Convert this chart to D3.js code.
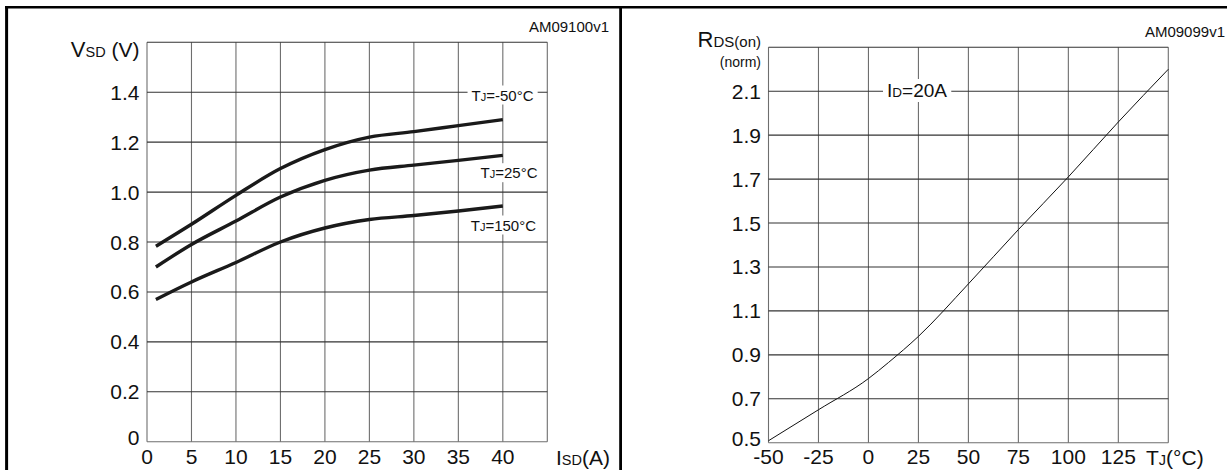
<!DOCTYPE html>
<html>
<head>
<meta charset="utf-8">
<script src="https://cdn.jsdelivr.net/npm/d3@7"></script>
<style>
  body { margin: 0; background: #fff; }
  text { font-family: "Liberation Sans", Arial, sans-serif; fill: #111; }
</style>
</head>
<body>
<div id="chart"></div>
<script>
const WIDTH = 1227;
const HEIGHT = 470;

// left panel: source-drain diode forward voltage
const isdAmps = [1, 5, 10, 15, 20, 25, 30, 35, 40];
const vsdMinus50 = [0.783, 0.871, 0.987, 1.094, 1.17, 1.22, 1.242, 1.266, 1.29];
const vsd25 = [0.70, 0.79, 0.884, 0.98, 1.047, 1.088, 1.108, 1.127, 1.147];
const vsd150 = [0.57, 0.64, 0.718, 0.80, 0.856, 0.89, 0.906, 0.924, 0.944];
const isdTicks = [0, 5, 10, 15, 20, 25, 30, 35, 40];
const vsdTicks = [0, 0.2, 0.4, 0.6, 0.8, 1.0, 1.2, 1.4];

// right panel: normalized on-resistance vs temperature
const tempC = [-50, -25, 0, 10, 25, 50, 75, 100, 125, 150];
const rdsNorm = [0.509, 0.65, 0.792, 0.865, 0.984, 1.223, 1.47, 1.71, 1.96, 2.2];
const tempTicks = [-50, -25, 0, 25, 50, 75, 100, 125];
const rdsTicks = [0.5, 0.7, 0.9, 1.1, 1.3, 1.5, 1.7, 1.9, 2.1];

const svg = d3.select("#chart").append("svg")
    .attr("width", WIDTH)
    .attr("height", HEIGHT);

// outer frame
svg.append("line").attr("x1", 5).attr("x2", WIDTH).attr("y1", 7.3).attr("y2", 7.3)
    .attr("stroke", "#000").attr("stroke-width", 2.6);
svg.append("line").attr("x1", 6.6).attr("x2", 6.6).attr("y1", 6).attr("y2", HEIGHT)
    .attr("stroke", "#000").attr("stroke-width", 3);
svg.append("line").attr("x1", 620.6).attr("x2", 620.6).attr("y1", 6).attr("y2", HEIGHT)
    .attr("stroke", "#000").attr("stroke-width", 2.8);

function grid(g, x, y, xt, yt, xMax, yMax) {
    g.selectAll("line.v").data(xt.concat([xMax])).enter().append("line")
        .attr("x1", d => x(d)).attr("x2", d => x(d))
        .attr("y1", y.range()[0]).attr("y2", y.range()[1])
        .attr("stroke", "#6e6e6e").attr("stroke-width", 1.1);
    g.selectAll("line.h").data(yt.concat([yMax])).enter().append("line")
        .attr("x1", x.range()[0]).attr("x2", x.range()[1])
        .attr("y1", d => y(d)).attr("y2", d => y(d))
        .attr("stroke", (d, i) => i === 0 ? "#6e6e6e" : "#333").attr("stroke-width", 1.1);
    g.selectAll("text.xt").data(xt).enter().append("text")
        .attr("x", d => x(d)).attr("y", 464)
        .attr("text-anchor", "middle").style("font-size", "21px")
        .text(d => d);
}

function label(g, x, y, big, small, rest, sizes, anchor) {
    const t = g.append("text").attr("x", x).attr("y", y)
        .attr("text-anchor", anchor || "start");
    t.append("tspan").style("font-size", sizes[0] + "px").text(big);
    t.append("tspan").style("font-size", sizes[1] + "px").text(small);
    if (rest) t.append("tspan").style("font-size", sizes[2] + "px").text(rest);
    return t;
}

function boxed(g, t) {
    const b = t.node().getBBox();
    g.insert("rect", () => t.node())
        .attr("x", b.x - 4).attr("y", b.y - 1)
        .attr("width", b.width + 8).attr("height", b.height + 2)
        .attr("fill", "#fff");
}

// ---------- left ----------
const xL = d3.scaleLinear().domain([0, 45]).range([147, 547.3]);
const yL = d3.scaleLinear().domain([0, 1.6]).range([441.7, 42.3]);
const gL = svg.append("g");
grid(gL, xL, yL, isdTicks, vsdTicks, 45, 1.6);

gL.selectAll("text.yt").data(vsdTicks).enter().append("text")
    .attr("x", 139.5).attr("y", (d, i) => yL(d) + (i === 0 ? 3.5 : 7.5))
    .attr("text-anchor", "end").style("font-size", "21px")
    .text(d => d === 0 ? "0" : d.toFixed(1));

label(gL, 139.5, 57.3, "V", "SD", " (V)", [22, 14.5, 21], "end");
label(gL, 556, 465, "I", "SD", "(A)", [21, 14.5, 21]);
svg.append("text").attr("x", 609).attr("y", 31.5).attr("text-anchor", "end")
    .style("font-size", "15px").text("AM09100v1");

const lineL = d3.line().curve(d3.curveMonotoneX)
    .x((d, i) => xL(isdAmps[i])).y(d => yL(d));
[vsdMinus50, vsd25, vsd150].forEach(s => {
    gL.append("path").attr("d", lineL(s))
        .attr("fill", "none").attr("stroke", "#1a1a1a").attr("stroke-width", 3.4);
});

const curveNames = [["-50°C", 95, 533.5], ["25°C", 172.7, 537.5], ["150°C", 225, 536]];
curveNames.forEach(([n, cy, rx]) => {
    const t = label(gL, rx, cy + 5.5, "T", "J", "=" + n, [15, 11, 15], "end");
    boxed(gL, t);
});

// ---------- right ----------
const xR = d3.scaleLinear().domain([-50, 150]).range([768.5, 1168.3]);
const yR = d3.scaleLinear().domain([0.5, 2.3]).range([442.7, 47.3]);
const gR = svg.append("g");
grid(gR, xR, yR, tempTicks, rdsTicks, 150, 2.3);

gR.selectAll("text.yt").data(rdsTicks).enter().append("text")
    .attr("x", 761).attr("y", (d, i) => yR(d) + (i === 0 ? 3 : 7.5))
    .attr("text-anchor", "end").style("font-size", "21px")
    .text(d => d.toFixed(1));

label(gR, 761, 47, "R", "DS(on)", null, [22, 15], "end");
gR.append("text").attr("x", 761).attr("y", 67).attr("text-anchor", "end")
    .style("font-size", "14px").text("(norm)");
label(gR, 1146, 465, "T", "J", "(°C)", [21, 14.5, 21]);
svg.append("text").attr("x", 1225).attr("y", 37).attr("text-anchor", "end")
    .style("font-size", "15px").text("AM09099v1");

const idLabel = label(gR, 887, 97, "I", "D", "=20A", [19, 13.5, 19]);
boxed(gR, idLabel);

const lineR = d3.line().curve(d3.curveMonotoneX)
    .x((d, i) => xR(tempC[i])).y(d => yR(d));
gR.append("path").attr("d", lineR(rdsNorm))
    .attr("fill", "none").attr("stroke", "#111").attr("stroke-width", 1);
</script>
</body>
</html>
